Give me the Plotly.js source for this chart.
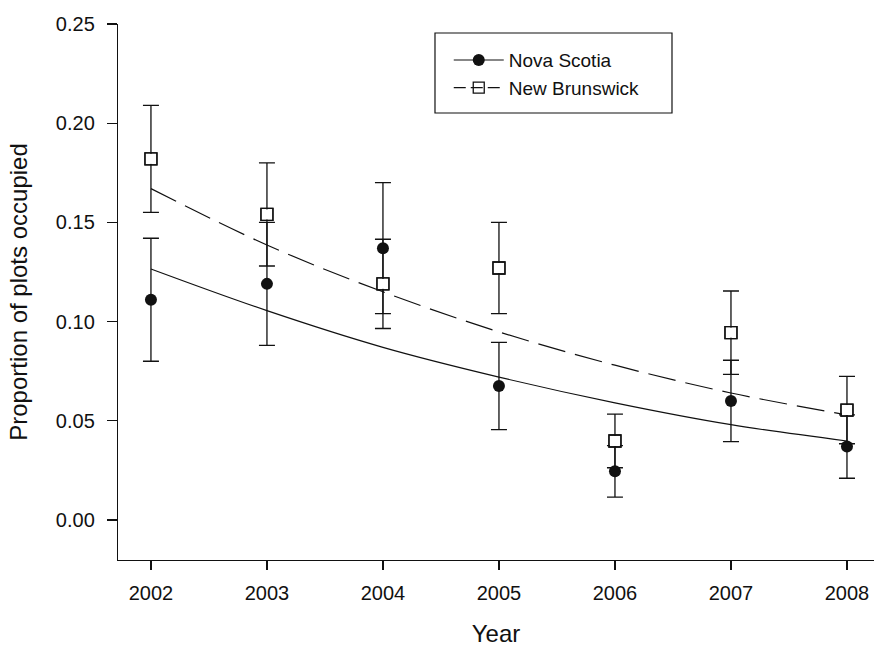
<!DOCTYPE html>
<html>
<head>
<meta charset="utf-8">
<script src="https://cdn.plot.ly/plotly-3.0.1.min.js"></script>
<style>html,body{margin:0;padding:0;background:#fff;}#chart{width:874px;height:650px;}</style>
</head>
<body>
<div id="chart"></div>
<script>
// ---- data ----
const years = [2002, 2003, 2004, 2005, 2006, 2007, 2008];
const novaScotia = [0.111, 0.119, 0.137, 0.0675, 0.0245, 0.060, 0.037];
const novaScotiaErr = [0.031, 0.031, 0.033, 0.022, 0.013, 0.0205, 0.016];
const newBrunswick = [0.182, 0.154, 0.119, 0.127, 0.0398, 0.0944, 0.0554];
const newBrunswickErr = [0.027, 0.026, 0.0225, 0.023, 0.0135, 0.021, 0.017];
const novaScotiaFit = [0.1265, 0.1055, 0.087, 0.072, 0.059, 0.048, 0.0398];
const newBrunswickFit = [0.167, 0.1386, 0.115, 0.0948, 0.078, 0.064, 0.053];
const seriesNames = ['Nova Scotia', 'New Brunswick'];
const yTicks = [0, 0.05, 0.10, 0.15, 0.20, 0.25];

const ink = '#111';
const font = 'Liberation Sans, Arial, sans-serif';

const traces = [
  {x: years, y: novaScotiaFit, mode: 'lines', line: {color: ink, width: 1.2, shape: 'spline'}, showlegend: false, hoverinfo: 'skip'},
  {x: years, y: newBrunswickFit, mode: 'lines', line: {color: ink, width: 1.2, dash: '28px,10px', shape: 'spline'}, showlegend: false, hoverinfo: 'skip'},
  {x: years, y: novaScotia, mode: 'markers', name: seriesNames[0], showlegend: false,
   marker: {symbol: 'circle', size: 12, color: ink, line: {width: 0}},
   error_y: {type: 'data', array: novaScotiaErr, visible: true, color: ink, thickness: 1.3, width: 8}},
  {x: years, y: newBrunswick, mode: 'markers', name: seriesNames[1], showlegend: false,
   marker: {symbol: 'square-open', size: 12, color: ink, line: {width: 1.3, color: ink}},
   error_y: {type: 'data', array: newBrunswickErr, visible: true, color: ink, thickness: 1.3, width: 8}},
  {x: years, y: newBrunswick, mode: 'markers', showlegend: false, hoverinfo: 'skip',
   marker: {symbol: 'square', size: 10, color: '#fff', line: {width: 0}}},
  {x: years, y: newBrunswick, mode: 'markers', showlegend: false, hoverinfo: 'skip',
   marker: {symbol: 'square-open', size: 12, color: ink, line: {width: 1.3, color: ink}}},
  {x: [null], y: [null], mode: 'lines+markers', name: seriesNames[0],
   line: {color: ink, width: 1.2}, marker: {symbol: 'circle', size: 12, color: ink}},
  {x: [null], y: [null], mode: 'lines+markers', name: seriesNames[1],
   line: {color: ink, width: 1.2, dash: '12px,5px'}, marker: {symbol: 'square-open', size: 11, color: ink, line: {width: 1.3, color: ink}}}
];

const layout = {
  width: 874, height: 650,
  margin: {l: 118, r: 0, t: 24, b: 90},
  paper_bgcolor: '#fff', plot_bgcolor: '#fff',
  font: {family: font, color: ink, size: 20},
  showlegend: true,
  legend: {x: 0.4375, y: 0.968, xanchor: 'left', yanchor: 'top', bgcolor: 'rgba(0,0,0,0)', borderwidth: 0,
           font: {family: font, size: 19, color: ink}, itemwidth: 50, tracegroupgap: 0},
  xaxis: {
    range: [2001.716, 2008.233], tickvals: years, ticktext: years.map(String),
    showline: true, linecolor: ink, linewidth: 1.2, showgrid: false, zeroline: false,
    ticks: 'outside', ticklen: 9, tickwidth: 1.2, tickcolor: ink, ticklabelstandoff: 6,
    tickfont: {family: font, size: 20, color: ink},
    title: {text: 'Year', font: {family: font, size: 24, color: ink}, standoff: 22}
  },
  yaxis: {
    range: [-0.0202, 0.25], tickvals: yTicks, tickformat: '.2f',
    showline: true, linecolor: ink, linewidth: 1.2, showgrid: false, zeroline: false,
    ticks: 'outside', ticklen: 10, tickwidth: 1.2, tickcolor: ink, ticklabelstandoff: 8,
    tickfont: {family: font, size: 20, color: ink},
    title: {text: 'Proportion of plots occupied', font: {family: font, size: 24, color: ink}, standoff: 21}
  },
  shapes: [
    {type: 'rect', xref: 'paper', yref: 'paper', x0: 0.4193, x1: 0.7328, y0: 0.834, y1: 0.9832,
     line: {color: ink, width: 1.2}, fillcolor: 'rgba(0,0,0,0)'}
  ]
};

Plotly.newPlot('chart', traces, layout, {staticPlot: true, displayModeBar: false});
</script>
</body>
</html>
